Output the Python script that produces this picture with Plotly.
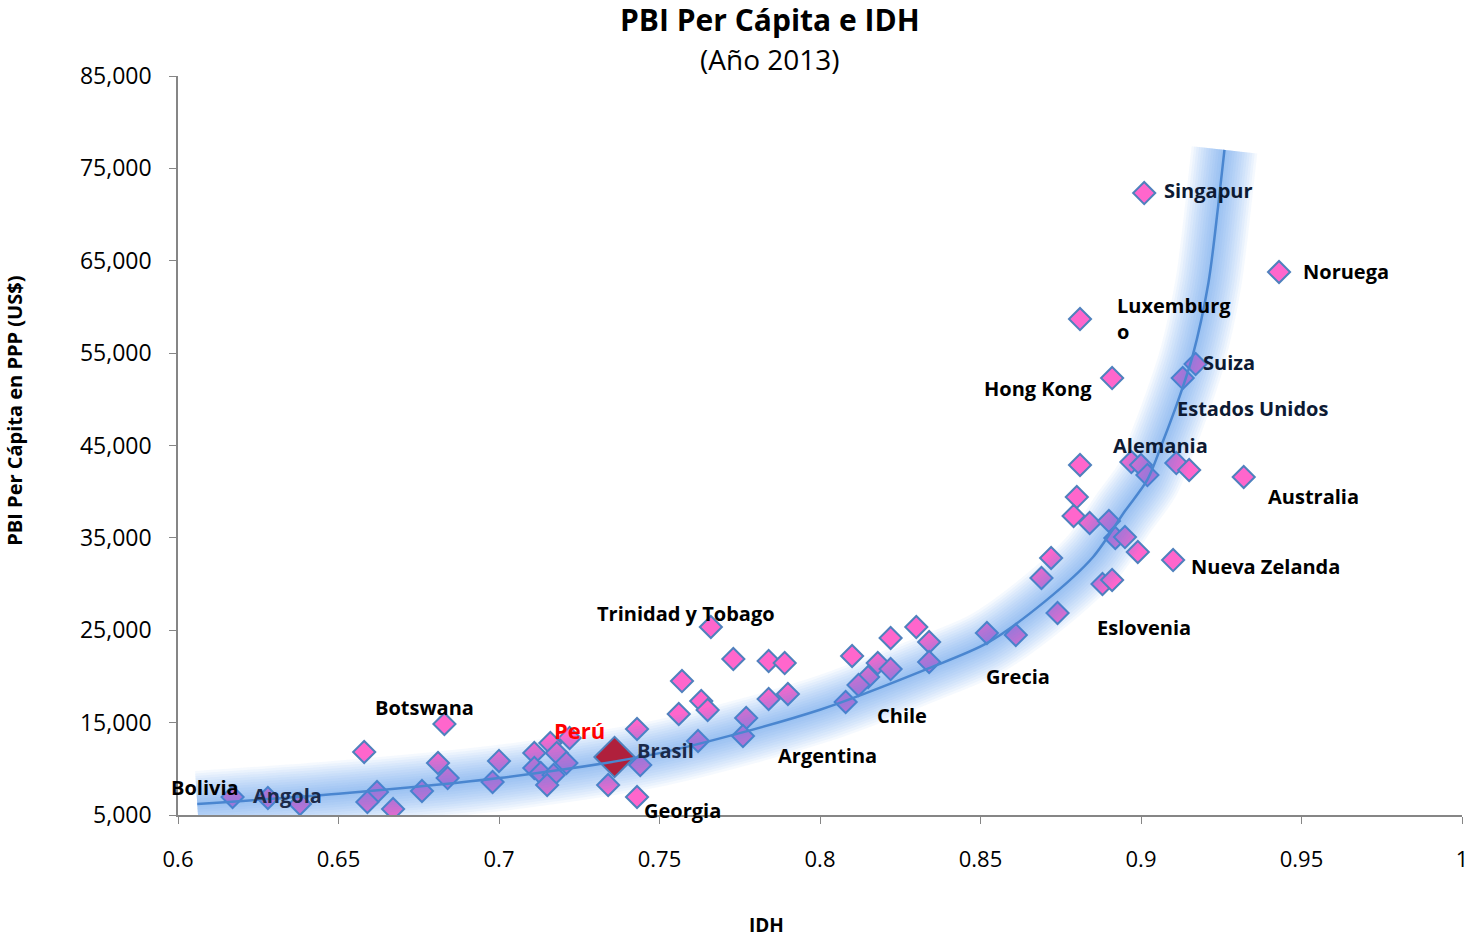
import plotly.graph_objects as go

# IDH vs PBI per cápita (PPP, US$), año 2013
idh = [0.617, 0.628, 0.638, 0.658, 0.662, 0.659, 0.667, 0.676, 0.681, 0.684,
       0.683, 0.700, 0.698, 0.711, 0.711, 0.716, 0.718, 0.721, 0.722, 0.713,
       0.717, 0.715, 0.743, 0.744, 0.734, 0.743, 0.766, 0.773, 0.784, 0.789,
       0.757, 0.763, 0.765, 0.756, 0.784, 0.790, 0.777, 0.776, 0.762, 0.810,
       0.822, 0.830, 0.834, 0.834, 0.818, 0.822, 0.815, 0.812, 0.808, 0.852,
       0.861, 0.874, 0.881, 0.880, 0.879, 0.884, 0.890, 0.892, 0.895, 0.899,
       0.872, 0.869, 0.888, 0.891, 0.897, 0.900, 0.902, 0.911, 0.915, 0.932,
       0.910, 0.901, 0.943, 0.881, 0.891, 0.917, 0.913]
pbi = [6950, 6840, 6190, 11820, 7490, 6410, 5650, 7600, 10630, 9000,
       14850, 10850, 8570, 11710, 10090, 12790, 11710, 10630, 13340, 9550,
       9330, 8250, 14310, 10410, 8250, 6950, 25350, 21890, 21670, 21450,
       19500, 17340, 16370, 15930, 17560, 18100, 15500, 13550, 13010, 22210,
       24160, 25350, 23730, 21560, 21450, 20800, 19940, 19070, 17230, 24700,
       24490, 26870, 42890, 39420, 37370, 36610, 36830, 34990, 35090, 33470,
       32820, 30660, 30010, 30440, 43210, 42890, 41800, 43100, 42350, 41590,
       32600, 72330, 63780, 58690, 52300, 53820, 52300]
pais = ["Bolivia", "Angola", "", "", "", "", "", "", "", "",
        "Botswana", "", "", "", "", "", "", "", "", "",
        "", "", "", "Brasil", "", "Georgia", "Trinidad y Tobago", "", "", "",
        "", "", "", "", "", "", "", "", "", "",
        "", "", "", "", "", "Chile", "", "", "Argentina", "",
        "Grecia", "Eslovenia", "", "", "", "", "", "", "", "",
        "", "", "", "", "", "", "", "Alemania", "", "Australia",
        "Nueva Zelanda", "Singapur", "Noruega", "Luxemburgo", "Hong Kong", "Suiza", "Estados Unidos"]

peru_idh = [0.736]
peru_pbi = [11280]

# línea de tendencia
tend_idh = [0.606, 0.65, 0.70, 0.75, 0.80, 0.834, 0.852, 0.87, 0.885, 0.895,
            0.902, 0.907, 0.912, 0.916, 0.921, 0.924, 0.926]
tend_pbi = [6200, 7300, 9000, 11700, 16400, 20900, 23600, 28100, 32900, 37900,
            41300, 45600, 50300, 54600, 62600, 70800, 77000]

FONT = "Open Sans"

# desplazamiento de cada etiqueta respecto a su punto (px)
label_pos = {
    "Singapur": (64, 3, "center", "#0d1a33"),
    "Noruega": (67, 1, "center", "black"),
    "Luxemburgo": (35, 1, "left", "black"),
    "Hong Kong": (-74, -10, "center", "black"),
    "Suiza": (33, 2, "center", "#0d1a33"),
    "Estados Unidos": (70, -30, "center", "#0d1a33"),
    "Alemania": (-16, 18, "center", "#0d1a33"),
    "Australia": (70, -19, "center", "black"),
    "Nueva Zelanda": (92, -6, "center", "black"),
    "Eslovenia": (86, -15, "center", "black"),
    "Grecia": (2, -42, "center", "black"),
    "Chile": (11, -46, "center", "black"),
    "Argentina": (-18, -53, "center", "black"),
    "Trinidad y Tobago": (-25, 14, "center", "black"),
    "Botswana": (-20, 17, "center", "black"),
    "Brasil": (25, 15, "center", "#1a2a4a"),
    "Georgia": (45, -14, "center", "black"),
    "Bolivia": (-28, 9, "center", "black"),
    "Angola": (20, 3, "center", "#1a2a4a"),
}

fig = go.Figure()

fig.add_trace(go.Scatter(
    x=idh, y=pbi, mode="markers", hoverinfo="skip",
    marker=dict(symbol="diamond", size=17, color="#ff66cc",
                line=dict(color="#4f81bd", width=2)),
))

# resplandor de la tendencia
for w in range(66, 4, -5):
    fig.add_trace(go.Scatter(
        x=tend_idh, y=tend_pbi, mode="lines", hoverinfo="skip",
        line=dict(color="rgba(80,150,235,0.055)", width=w, shape="spline", smoothing=0.8),
    ))

fig.add_trace(go.Scatter(
    x=peru_idh, y=peru_pbi, mode="markers", hoverinfo="skip",
    marker=dict(symbol="diamond", size=31, color="#b0203c",
                line=dict(color="#4f81bd", width=2)),
))
fig.add_trace(go.Scatter(
    x=tend_idh, y=tend_pbi, mode="lines", hoverinfo="skip",
    line=dict(color="#4a86d0", width=2.5, shape="spline", smoothing=0.8),
))

for xi, yi, name in zip(idh, pbi, pais):
    if not name:
        continue
    dx, dy, anchor, col = label_pos[name]
    text = "Luxemburg<br>o" if name == "Luxemburgo" else name
    fig.add_annotation(
        x=xi, y=yi, text="<b>%s</b>" % text, showarrow=False,
        xshift=dx, yshift=dy, xanchor=anchor, align="left",
        font=dict(family=FONT, size=20, color=col),
    )

fig.add_annotation(
    x=peru_idh[0], y=peru_pbi[0], text="<b>Perú</b>", showarrow=False,
    xshift=-35, yshift=27, font=dict(family=FONT, size=22, color="#ff0000"),
)

# títulos
fig.add_annotation(
    xref="paper", yref="paper", x=0.461, y=1.0765, xanchor="center", yanchor="middle",
    text="<b>PBI Per Cápita e IDH</b>",
    showarrow=False, font=dict(family=FONT, size=30, color="black"),
)
fig.add_annotation(
    xref="paper", yref="paper", x=0.461, y=1.023, xanchor="center", yanchor="middle",
    text="(Año 2013)",
    showarrow=False, font=dict(family=FONT, size=28, color="black"),
)
fig.add_annotation(
    xref="paper", yref="paper", x=0.458, y=-0.149, xanchor="center", yanchor="middle",
    text="<b>IDH</b>",
    showarrow=False, font=dict(family=FONT, size=19, color="black"),
)
fig.add_annotation(
    xref="paper", yref="paper", x=-0.127, y=0.547, xanchor="center", yanchor="middle",
    text="<b>PBI Per Cápita en PPP (US$)</b>",
    textangle=-90, showarrow=False, font=dict(family=FONT, size=20, color="black"),
)

fig.update_layout(
    width=1469, height=937,
    margin=dict(l=178, r=7, t=76, b=122),
    paper_bgcolor="white", plot_bgcolor="white",
    showlegend=False,
    font=dict(family=FONT, color="black"),
    xaxis=dict(
        range=[0.6, 1.0], dtick=0.05, tick0=0.6, showgrid=False, zeroline=False,
        showline=True, linecolor="#868686", linewidth=1.5, automargin=False,
        ticks="outside", ticklen=7, tickcolor="#868686", ticklabelstandoff=17,
        tickfont=dict(family=FONT, size=22, color="black"),
    ),
    yaxis=dict(
        range=[5000, 85000], dtick=10000, tick0=5000, showgrid=False, zeroline=False,
        showline=True, linecolor="#868686", linewidth=1.5, automargin=False,
        ticks="outside", ticklen=7, tickcolor="#868686", tickformat=",d",
        ticklabelstandoff=13,
        tickfont=dict(family=FONT, size=23, color="black"),
    ),
)

fig.write_html(
    "out.html",
    config={"displayModeBar": False},
    post_script="document.body.style.margin='0';document.body.style.overflow='hidden';",
)
